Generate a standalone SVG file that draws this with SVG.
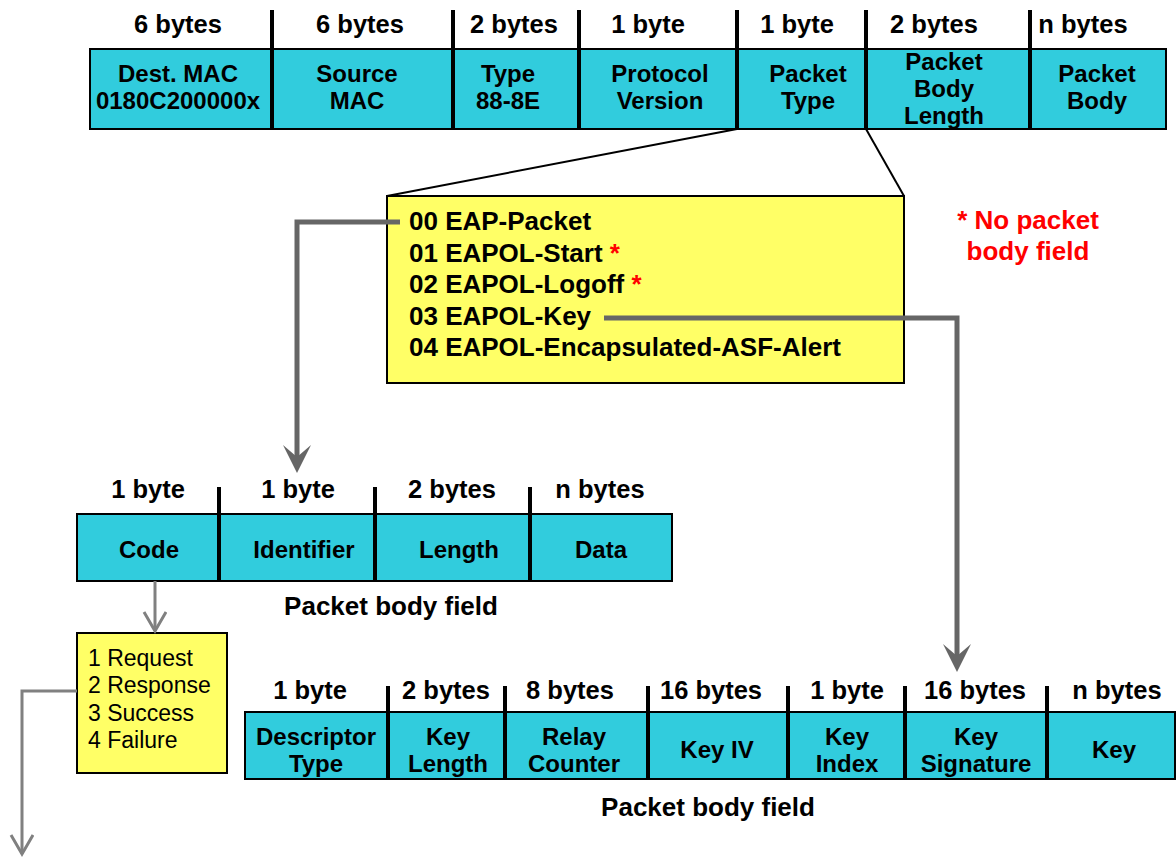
<svg xmlns="http://www.w3.org/2000/svg" width="1176" height="857" viewBox="0 0 1176 857">
<style>
text{font-family:"Liberation Sans",Arial,sans-serif;fill:#000}
.h{font-weight:bold;font-size:25.5px;text-anchor:middle}
.c{font-weight:bold;font-size:24px;text-anchor:middle}
.l{font-weight:bold;font-size:26px}
.r{fill:#ff0000}
.n{font-size:23px}
.cell{fill:#31CCDD;stroke:#000;stroke-width:2}
.yel{fill:#FFFF66;stroke:#000;stroke-width:2}
.div{stroke:#000;stroke-width:4}
.fun{stroke:#000;stroke-width:2;fill:none}
.thick{stroke:#666;stroke-width:5;fill:none}
.thin{stroke:#808080;stroke-width:3;fill:none}
</style>
<defs>
<marker id="ah" markerUnits="userSpaceOnUse" markerWidth="30" markerHeight="30" refX="12" refY="14" orient="auto" viewBox="0 0 30 30">
<path d="M0,0 L28,14 L0,28 L12,14 Z" fill="#666"/>
</marker>
<marker id="av" markerUnits="userSpaceOnUse" markerWidth="24" markerHeight="26" refX="20" refY="12" orient="auto" viewBox="0 0 24 26">
<path d="M1,1 L20,12 L1,23" fill="none" stroke="#808080" stroke-width="3"/>
</marker>
</defs>
<rect width="1176" height="857" fill="#fff"/>

<g id="funnel">
<line class="fun" x1="737" y1="129" x2="387" y2="196"/>
<line class="fun" x1="866" y1="129" x2="904" y2="196"/>
</g>

<g id="row1">
<g id="f-destmac"><rect class="cell" x="90" y="49" width="182" height="80"/><text class="h" x="178" y="33">6 bytes</text><text class="c" x="178" y="82">Dest. MAC</text><text class="c" x="178" y="109">0180C200000x</text></g>
<g id="f-srcmac"><rect class="cell" x="272" y="49" width="181" height="80"/><text class="h" x="360" y="33">6 bytes</text><text class="c" x="357" y="82">Source</text><text class="c" x="357" y="109">MAC</text></g>
<g id="f-type"><rect class="cell" x="453" y="49" width="126" height="80"/><text class="h" x="514" y="33">2 bytes</text><text class="c" x="508" y="82">Type</text><text class="c" x="508" y="109">88-8E</text></g>
<g id="f-ver"><rect class="cell" x="579" y="49" width="158" height="80"/><text class="h" x="648" y="33">1 byte</text><text class="c" x="660" y="82">Protocol</text><text class="c" x="660" y="109">Version</text></g>
<g id="f-ptype"><rect class="cell" x="737" y="49" width="129" height="80"/><text class="h" x="797" y="33">1 byte</text><text class="c" x="808" y="82">Packet</text><text class="c" x="808" y="109">Type</text></g>
<g id="f-blen"><rect class="cell" x="866" y="49" width="164" height="80"/><text class="h" x="934" y="33">2 bytes</text><text class="c" x="944" y="70">Packet</text><text class="c" x="944" y="97">Body</text><text class="c" x="944" y="124">Length</text></g>
<g id="f-body"><rect class="cell" x="1030" y="49" width="136" height="80"/><text class="h" x="1083" y="33">n bytes</text><text class="c" x="1097" y="82">Packet</text><text class="c" x="1097" y="109">Body</text></g>
<g id="row1-ticks">
<line class="div" x1="272" y1="10" x2="272" y2="129"/>
<line class="div" x1="453" y1="10" x2="453" y2="129"/>
<line class="div" x1="579" y1="10" x2="579" y2="129"/>
<line class="div" x1="737" y1="10" x2="737" y2="129"/>
<line class="div" x1="866" y1="10" x2="866" y2="129"/>
<line class="div" x1="1030" y1="10" x2="1030" y2="129"/>
</g>
</g>

<g id="types">
<rect class="yel" x="387" y="196" width="517" height="187"/>
<text class="l" x="409" y="230">00 EAP-Packet</text>
<text class="l" x="409" y="262">01 EAPOL-Start <tspan class="r">*</tspan></text>
<text class="l" x="409" y="293">02 EAPOL-Logoff <tspan class="r">*</tspan></text>
<text class="l" x="409" y="325">03 EAPOL-Key</text>
<text class="l" x="409" y="356">04 EAPOL-Encapsulated-ASF-Alert</text>
</g>

<g id="note">
<text class="l r" x="1028" y="229" text-anchor="middle">* No packet</text>
<text class="l r" x="1028" y="260" text-anchor="middle">body field</text>
</g>

<g id="row2">
<g id="f-code"><rect class="cell" x="77" y="514" width="142" height="67"/><text class="h" x="148" y="498">1 byte</text><text class="c" x="149" y="558">Code</text></g>
<g id="f-id"><rect class="cell" x="219" y="514" width="156" height="67"/><text class="h" x="298" y="498">1 byte</text><text class="c" x="304" y="558">Identifier</text></g>
<g id="f-len"><rect class="cell" x="375" y="514" width="155" height="67"/><text class="h" x="452" y="498">2 bytes</text><text class="c" x="459" y="558">Length</text></g>
<g id="f-data"><rect class="cell" x="530" y="514" width="142" height="67"/><text class="h" x="600" y="498">n bytes</text><text class="c" x="601" y="558">Data</text></g>
<g id="row2-ticks">
<line class="div" x1="219" y1="487" x2="219" y2="581"/>
<line class="div" x1="375" y1="487" x2="375" y2="581"/>
<line class="div" x1="530" y1="487" x2="530" y2="581"/>
</g>
<text class="h" x="391" y="615" style="font-size:26px">Packet body field</text>
</g>

<g id="codes">
<rect class="yel" x="77" y="633" width="150" height="140"/>
<text class="n" x="88" y="666">1 Request</text>
<text class="n" x="88" y="693">2 Response</text>
<text class="n" x="88" y="721">3 Success</text>
<text class="n" x="88" y="748">4 Failure</text>
</g>

<g id="row3">
<g id="f-desc"><rect class="cell" x="245" y="712" width="143" height="67"/><text class="h" x="310" y="699">1 byte</text><text class="c" x="316" y="745">Descriptor</text><text class="c" x="316" y="772">Type</text></g>
<g id="f-klen"><rect class="cell" x="388" y="712" width="117" height="67"/><text class="h" x="446" y="699">2 bytes</text><text class="c" x="448" y="745">Key</text><text class="c" x="448" y="772">Length</text></g>
<g id="f-relay"><rect class="cell" x="505" y="712" width="143" height="67"/><text class="h" x="570" y="699">8 bytes</text><text class="c" x="574" y="745">Relay</text><text class="c" x="574" y="772">Counter</text></g>
<g id="f-iv"><rect class="cell" x="648" y="712" width="140" height="67"/><text class="h" x="711" y="699">16 bytes</text><text class="c" x="717" y="758">Key IV</text></g>
<g id="f-kidx"><rect class="cell" x="788" y="712" width="117" height="67"/><text class="h" x="847" y="699">1 byte</text><text class="c" x="847" y="745">Key</text><text class="c" x="847" y="772">Index</text></g>
<g id="f-ksig"><rect class="cell" x="905" y="712" width="142" height="67"/><text class="h" x="975" y="699">16 bytes</text><text class="c" x="976" y="745">Key</text><text class="c" x="976" y="772">Signature</text></g>
<g id="f-key"><rect class="cell" x="1047" y="712" width="128" height="67"/><text class="h" x="1117" y="699">n bytes</text><text class="c" x="1114" y="758">Key</text></g>
<g id="row3-ticks">
<line class="div" x1="388" y1="686" x2="388" y2="779"/>
<line class="div" x1="505" y1="686" x2="505" y2="779"/>
<line class="div" x1="648" y1="686" x2="648" y2="779"/>
<line class="div" x1="788" y1="686" x2="788" y2="779"/>
<line class="div" x1="905" y1="686" x2="905" y2="779"/>
<line class="div" x1="1047" y1="686" x2="1047" y2="779"/>
</g>
<text class="h" x="708" y="816" style="font-size:26px">Packet body field</text>
</g>

<g id="connectors">
<path class="thick" d="M400,222 H297 V457" marker-end="url(#ah)"/>
<path class="thick" d="M604,318 H957 V656" marker-end="url(#ah)"/>
<path class="thin" d="M155,581 V631" marker-end="url(#av)"/>
<path class="thin" d="M77,691 H22 V854" marker-end="url(#av)"/>
</g>
</svg>
